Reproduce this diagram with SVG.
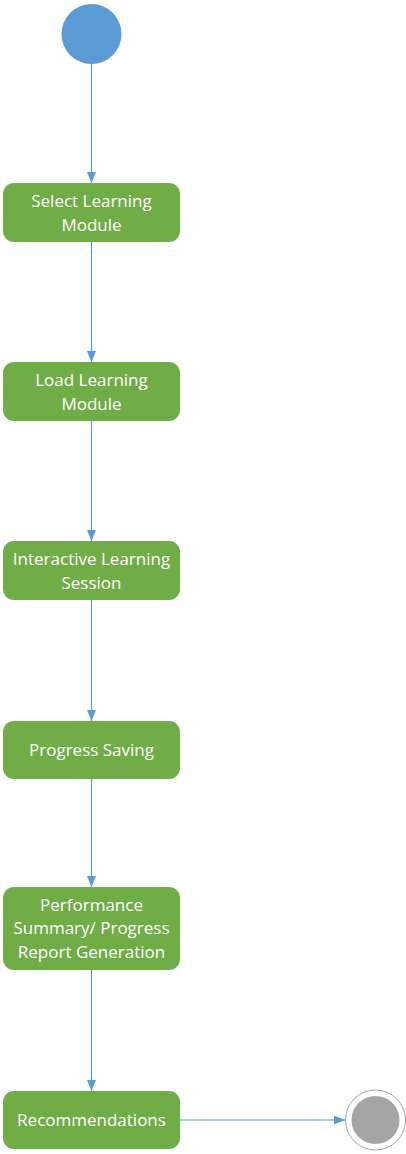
<svg xmlns="http://www.w3.org/2000/svg" width="406" height="1154" viewBox="0 0 406 1154">
<defs>
<marker id="arr" markerWidth="11" markerHeight="9" refX="11" refY="4.5" orient="auto" markerUnits="userSpaceOnUse">
<path d="M0,0 L11,4.5 L0,9 Z" fill="#5B9BD5"/>
</marker>
<style>
.node rect{fill:#70AD47;}
.node text{font-family:"Open Sans","Liberation Sans",sans-serif;font-size:17px;fill:#FFFFFF;text-anchor:middle;}
.conn line{stroke:#5B9BD5;stroke-width:1.2;fill:none;marker-end:url(#arr);}
</style>
</defs>
<rect width="406" height="1154" fill="#FFFFFF"/>
<g id="connectors" class="conn">
<line x1="91.5" y1="64" x2="91.5" y2="183"/>
<line x1="91.5" y1="242" x2="91.5" y2="362"/>
<line x1="91.5" y1="421" x2="91.5" y2="541"/>
<line x1="91.5" y1="600" x2="91.5" y2="721"/>
<line x1="91.5" y1="779" x2="91.5" y2="887"/>
<line x1="91.5" y1="970" x2="91.5" y2="1091"/>
<line x1="180" y1="1120" x2="345" y2="1120"/>
</g>
<g id="start">
<circle cx="91.5" cy="34" r="30" fill="#5B9BD5"/>
</g>
<g id="n1" class="node">
<rect x="3" y="183" width="177" height="59" rx="11"/>
<text x="91.5" y="207">Select Learning</text>
<text x="91.5" y="231">Module</text>
</g>
<g id="n2" class="node">
<rect x="3" y="362" width="177" height="59" rx="11"/>
<text x="91.5" y="386">Load Learning</text>
<text x="91.5" y="410">Module</text>
</g>
<g id="n3" class="node">
<rect x="3" y="541" width="177" height="59" rx="11"/>
<text x="91.5" y="565">Interactive Learning</text>
<text x="91.5" y="589">Session</text>
</g>
<g id="n4" class="node">
<rect x="3" y="721" width="177" height="58" rx="11"/>
<text x="91.5" y="756">Progress Saving</text>
</g>
<g id="n5" class="node">
<rect x="3" y="887" width="177" height="83" rx="11"/>
<text x="91.5" y="910.5">Performance</text>
<text x="91.5" y="934">Summary/ Progress</text>
<text x="91.5" y="957.5">Report Generation</text>
</g>
<g id="n6" class="node">
<rect x="3" y="1091" width="177" height="58" rx="11"/>
<text x="91.5" y="1126">Recommendations</text>
</g>
<g id="end">
<circle cx="375.5" cy="1120" r="30" fill="#FFFFFF" stroke="#A5A5A5" stroke-width="1"/>
<circle cx="375.5" cy="1120" r="24" fill="#A5A5A5"/>
</g>
</svg>
